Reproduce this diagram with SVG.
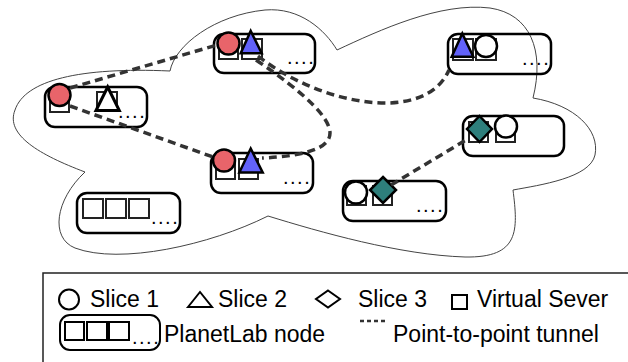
<svg xmlns="http://www.w3.org/2000/svg" width="628" height="362" viewBox="0 0 628 362">
  <style>
    .cloud { fill: #fff; stroke: #444; stroke-width: 1; }
    .node { fill: none; stroke: #000; stroke-width: 2.5; }
    .vs { fill: #fff; stroke: #222; stroke-width: 2; }
    .s1 { fill: #fff; stroke: #000; stroke-width: 2.5; }
    .s1r { fill: #e8646a; stroke: #000; stroke-width: 2.5; }
    .s2 { fill: #fff; stroke: #000; stroke-width: 3; stroke-linejoin: miter; }
    .s2b { fill: #6262fa; stroke: #000; stroke-width: 2.5; stroke-linejoin: miter; }
    .s3t { fill: #2e7f7c; stroke: #000; stroke-width: 2.5; }
    .dots { font-family: "Liberation Sans", Arial, sans-serif; font-size: 20px; letter-spacing: 1.5px; fill: #000; }
    .tunnel { fill: none; stroke: #333; stroke-width: 3.5; stroke-dasharray: 8 5; }
    .lbl { font-family: "Liberation Sans", Arial, sans-serif; font-size: 23px; fill: #000; }
    .leg { fill: none; stroke: #000; stroke-width: 2; }
  </style>

  <!-- network cloud -->
  <path class="cloud" d="M170,71 C175,45 215,15 265,10 C300,7 325,30 337,50 C380,30 440,2 490,8 C530,14 545,50 533,98 C575,105 600,130 595,155 C590,178 540,185 513,190 C518,230 520,258 465,257 C400,255 320,232 268,216 C210,245 120,265 75,248 C50,238 55,200 85,172 C40,155 5,135 15,110 C25,80 80,67 170,71 Z"/>

  <g id="node-a">
    <rect class="node" x="45" y="87" width="102" height="40" rx="10"/>
    <rect class="vs" x="50" y="93" width="19" height="19"/>
    <rect class="vs" x="97" y="92" width="20" height="19"/>
    <circle class="s1r" cx="59.5" cy="95" r="11"/>
    <polygon class="s2" points="96,110.5 107.7,87 119.3,110.5"/>
    <text class="dots" x="118" y="117.5">....</text>
  </g>

  <g id="node-b">
    <rect class="node" x="214" y="34" width="101" height="39" rx="10"/>
    <rect class="vs" x="219" y="39" width="19" height="20"/>
    <rect class="vs" x="242" y="39" width="20" height="20"/>
    <circle class="s1r" cx="228.5" cy="43.5" r="11"/>
    <polygon class="s2b" points="240.7,53.3 250.7,31 261.7,53.3"/>
    <text class="dots" x="287" y="63.5">....</text>
  </g>

  <g id="node-c">
    <rect class="node" x="211" y="153" width="102" height="40" rx="10"/>
    <rect class="vs" x="216" y="159" width="19" height="20"/>
    <rect class="vs" x="239" y="159" width="19" height="20"/>
    <circle class="s1r" cx="224" cy="160.5" r="11"/>
    <polygon class="s2b" points="239.3,172.5 250.7,148.5 262.7,172.5"/>
    <text class="dots" x="283" y="183.5">....</text>
  </g>

  <g id="node-d">
    <rect class="node" x="77" y="193" width="103" height="40" rx="10"/>
    <rect class="vs" x="83" y="199" width="20" height="19"/>
    <rect class="vs" x="106" y="199" width="20" height="19"/>
    <rect class="vs" x="129" y="199" width="20" height="19"/>
    <text class="dots" x="151" y="223.5">....</text>
  </g>

  <g id="node-e">
    <rect class="node" x="448" y="34" width="103" height="40" rx="10"/>
    <rect class="vs" x="453" y="39" width="20" height="21"/>
    <rect class="vs" x="476" y="39" width="20" height="21"/>
    <polygon class="s2b" points="451.7,56.7 462.3,33.5 473.3,56.7"/>
    <circle class="s1" cx="486" cy="46" r="11"/>
    <text class="dots" x="522" y="64.5">....</text>
  </g>

  <g id="node-f">
    <rect class="node" x="463" y="116" width="101" height="40" rx="10"/>
    <rect class="vs" x="469" y="122" width="19" height="20"/>
    <rect class="vs" x="496" y="122" width="19" height="20"/>
    <polygon class="s3t" points="479.5,116 492,129 479.5,142 467,129"/>
    <circle class="s1" cx="506" cy="126.5" r="11"/>
  </g>

  <g id="node-g">
    <rect class="node" x="343" y="181" width="103" height="40" rx="10"/>
    <rect class="vs" x="347" y="186" width="19" height="19"/>
    <rect class="vs" x="373" y="186" width="19" height="19"/>
    <circle class="s1" cx="356" cy="192.5" r="11"/>
    <polygon class="s3t" points="383,177 396,190 383,203 370,190"/>
    <text class="dots" x="416" y="211.5">....</text>
  </g>

  <!-- point-to-point tunnels -->
  <g id="tunnels">
    <path class="tunnel" d="M70,88 L217,45"/>
    <path class="tunnel" d="M70,106 L213,157"/>
    <path class="tunnel" d="M258,56 C320,105 425,125 449,70"/>
    <path class="tunnel" d="M256,60 Q330,110 330,133 Q330,155 262,158"/>
    <path class="tunnel" d="M391,185 L466,140"/>
  </g>

  <!-- legend -->
  <g id="legend">
    <rect x="43" y="273" width="600" height="100" fill="none" stroke="#222" stroke-width="1.5"/>
    <circle class="leg" cx="69" cy="299.5" r="10"/>
    <text class="lbl" x="90" y="307">Slice 1</text>
    <polygon class="leg" points="188,307 200,292 212,307"/>
    <text class="lbl" x="218" y="307">Slice 2</text>
    <polygon class="leg" stroke-width="2.5" points="328,290.5 340,299 328,307.5 316,299"/>
    <text class="lbl" x="358" y="307">Slice 3</text>
    <rect class="leg" x="452" y="295" width="15" height="14"/>
    <text class="lbl" x="477" y="307">Virtual Sever</text>
    <rect class="leg" x="60" y="315" width="100" height="35" rx="10"/>
    <rect class="leg" x="65" y="322" width="19" height="18"/>
    <rect class="leg" x="87" y="322" width="20" height="18"/>
    <rect class="leg" x="109" y="322" width="20" height="18"/>
    <text class="dots" x="132" y="344">....</text>
    <text class="lbl" x="164" y="341.5">PlanetLab node</text>
    <line x1="360" y1="321" x2="385" y2="321" stroke="#333" stroke-width="2.5" stroke-dasharray="4 3"/>
    <text class="lbl" x="393" y="341.5">Point-to-point tunnel</text>
  </g>
</svg>
